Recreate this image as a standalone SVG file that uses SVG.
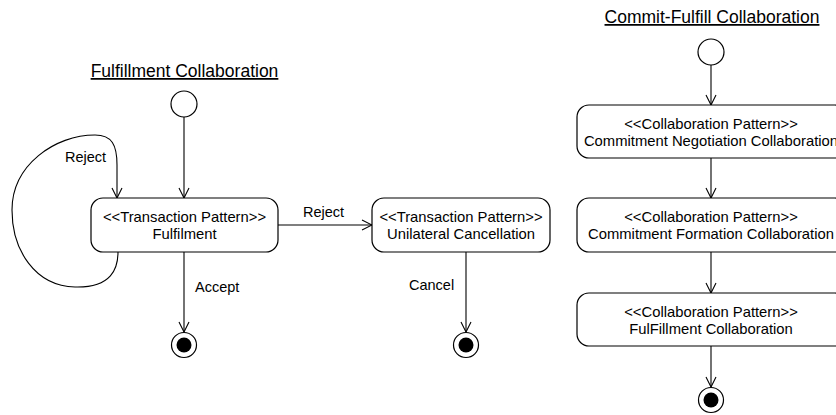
<svg xmlns="http://www.w3.org/2000/svg" width="836" height="415" viewBox="0 0 836 415">
  <defs>
    <marker id="open-arrow" viewBox="0 0 12 12" refX="11" refY="6" markerWidth="12" markerHeight="12" markerUnits="userSpaceOnUse" orient="auto">
      <path d="M1,1 L11,6 L1,11" fill="none" stroke="#000" stroke-width="1.1"/>
    </marker>
  </defs>
  <style>
    text { font-family: "Liberation Sans", Arial, sans-serif; fill: #000; }
    .title { font-size: 17.5px; text-anchor: middle; text-decoration: underline; }
    .node-text { font-size: 14.8px; text-anchor: middle; }
    .label { font-size: 14.5px; }
    .state { fill: #fff; stroke: #000; stroke-width: 1.2; }
    .start { fill: #fff; stroke: #000; stroke-width: 1.2; }
    .end-ring { fill: #fff; stroke: #000; stroke-width: 1.2; }
    .end-dot { fill: #000; }
    .edge { fill: none; stroke: #000; stroke-width: 1.1; marker-end: url(#open-arrow); }
  </style>
  <rect width="836" height="415" fill="#fff"/>

  <!-- headings -->
  <text class="title" x="184.5" y="77">Fulfillment Collaboration</text>
  <text class="title" x="712" y="23">Commit-Fulfill Collaboration</text>

  <!-- connectors -->
  <g id="connectors">
    <path class="edge" d="M184,117 L184,198"/>
    <path class="edge" d="M118,252 C118,268 112,288 75,287 C35,286 12,250 12,210 C12,165 55,135 95,135 C112,135 117,145 117,165 L117,198"/>
    <path class="edge" d="M184,252 L184,332"/>
    <path class="edge" d="M278,225 L372,225"/>
    <path class="edge" d="M466,252 L466,332"/>
    <path class="edge" d="M711,65 L711,105"/>
    <path class="edge" d="M711,158 L711,198"/>
    <path class="edge" d="M711,252 L711,293"/>
    <path class="edge" d="M711,346 L711,387"/>
    <text class="label" x="65" y="162">Reject</text>
    <text class="label" x="195" y="292">Accept</text>
    <text class="label" x="303" y="217">Reject</text>
    <text class="label" x="409" y="290">Cancel</text>
  </g>

  <!-- left diagram -->
  <g id="start-left"><circle class="start" cx="184" cy="104" r="13"/></g>
  <g id="fulfilment">
    <rect class="state" x="91" y="198" width="187" height="54" rx="12"/>
    <text class="node-text" x="184.5" y="222">&lt;&lt;Transaction Pattern&gt;&gt;</text>
    <text class="node-text" x="184.5" y="239">Fulfilment</text>
  </g>
  <g id="end-accept">
    <circle class="end-ring" cx="184" cy="345" r="12.5"/>
    <circle class="end-dot" cx="184" cy="345" r="7.5"/>
  </g>
  <g id="unilateral-cancellation">
    <rect class="state" x="372" y="198" width="178" height="54" rx="12"/>
    <text class="node-text" x="461" y="222">&lt;&lt;Transaction Pattern&gt;&gt;</text>
    <text class="node-text" x="461" y="239">Unilateral Cancellation</text>
  </g>
  <g id="end-cancel">
    <circle class="end-ring" cx="466" cy="345" r="12.5"/>
    <circle class="end-dot" cx="466" cy="345" r="7.5"/>
  </g>

  <!-- right diagram -->
  <g id="start-right"><circle class="start" cx="711" cy="52" r="13"/></g>
  <g id="commitment-negotiation">
    <rect class="state" x="577" y="105" width="270" height="53" rx="12"/>
    <text class="node-text" x="711" y="129">&lt;&lt;Collaboration Pattern&gt;&gt;</text>
    <text class="node-text" x="711" y="146">Commitment Negotiation Collaboration</text>
  </g>
  <g id="commitment-formation">
    <rect class="state" x="577" y="198" width="270" height="54" rx="12"/>
    <text class="node-text" x="711" y="222">&lt;&lt;Collaboration Pattern&gt;&gt;</text>
    <text class="node-text" x="711" y="239">Commitment Formation Collaboration</text>
  </g>
  <g id="fulfillment-collaboration">
    <rect class="state" x="577" y="293" width="270" height="53" rx="12"/>
    <text class="node-text" x="711" y="317">&lt;&lt;Collaboration Pattern&gt;&gt;</text>
    <text class="node-text" x="711" y="334">FulFillment Collaboration</text>
  </g>
  <g id="end-right">
    <circle class="end-ring" cx="711" cy="400" r="12.5"/>
    <circle class="end-dot" cx="711" cy="400" r="7.5"/>
  </g>
</svg>
